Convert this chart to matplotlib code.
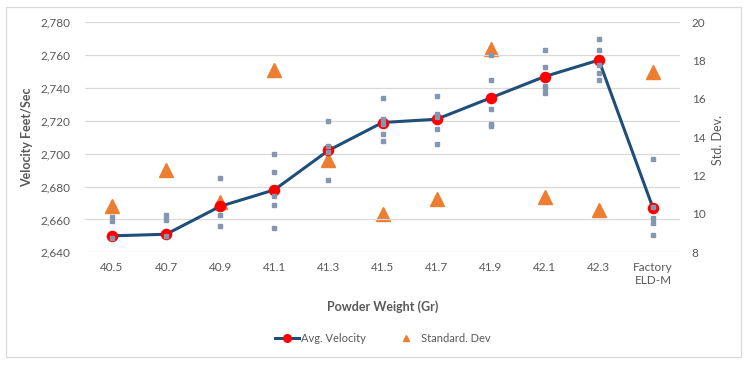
import matplotlib
matplotlib.use("Agg")
import matplotlib.pyplot as plt
from matplotlib.lines import Line2D
from matplotlib.patches import Rectangle
from matplotlib.ticker import FuncFormatter

plt.rcParams['font.family'] = ['Lato', 'DejaVu Sans']

# charges tested (last one is the factory load)
loads = ["40.5", "40.7", "40.9", "41.1", "41.3", "41.5", "41.7", "41.9",
         "42.1", "42.3", "Factory\nELD-M"]

# average velocity per load (ft/s)
avg_velocity = [2650, 2651, 2668, 2678, 2702, 2719, 2721, 2734, 2747, 2757, 2667]

# standard deviation per load (right axis)
std_dev = [10.4, 12.3, 10.6, 17.5, 12.8, 10.0, 10.8, 18.6, 10.9, 10.2, 17.4]

# single shots per load (grey squares)
shots = [
    [2661.5, 2659, 2649],
    [2663, 2659.5, 2650],
    [2685, 2663, 2656],
    [2700, 2689, 2674, 2669, 2655],
    [2720, 2705, 2701, 2684],
    [2734, 2721, 2718, 2712, 2708],
    [2735, 2724, 2722.5, 2715, 2706],
    [2760, 2745, 2727.5, 2718, 2717],
    [2763, 2753, 2741, 2740, 2737],
    [2770, 2763, 2754, 2749, 2745],
    [2696.5, 2667.5, 2661, 2658, 2650.5],
]

TEXT = "#595959"
GRID = "#D9D9D9"

fig = plt.figure(figsize=(7.49, 3.68), dpi=100)
fig.patches.append(Rectangle((6 / 749, 1 - 357 / 368), 735 / 749, 350 / 368,
                             transform=fig.transFigure, fill=False,
                             edgecolor=GRID, linewidth=0.9))

ax = fig.add_axes([85 / 749, 1 - 252.3 / 368, 595 / 749, 230 / 368])
ax2 = ax.twinx()

xs = list(range(len(loads)))

# left axis: velocities
ax.plot(xs, avg_velocity, color="#1F4E79", linewidth=2.2, marker="o",
        markersize=7.3, markerfacecolor="#FF0000", markeredgecolor="#FF0000",
        zorder=3)
for i, group in enumerate(shots):
    ax.plot([i] * len(group), group, linestyle="none", marker="s",
            markersize=3.0, color="#8497B0", zorder=4)

ax.set_ylim(2640, 2780)
ax.set_yticks(range(2640, 2781, 20))
ax.yaxis.set_major_formatter(FuncFormatter(lambda v, p: f"{int(v):,}"))
ax.set_xlim(-0.5, len(loads) - 0.5)
ax.set_xticks(xs)
ax.set_xticklabels(loads)
ax.grid(axis="y", color=GRID, linewidth=0.9)
ax.set_axisbelow(True)

# right axis: standard deviation
ax2.plot(xs, std_dev, linestyle="none", marker="^", markersize=9.5,
         color="#ED7D31", zorder=2)
ax2.set_ylim(8, 20)
ax2.set_yticks(range(8, 21, 2))

# put the velocity axes on top so the line sits over the triangles
ax.set_zorder(ax2.get_zorder() + 1)
ax.patch.set_visible(False)

for a in (ax, ax2):
    for s in a.spines.values():
        s.set_visible(False)
ax.tick_params(axis="y", length=0, pad=10.5, labelsize=8.5, labelcolor=TEXT)
ax.tick_params(axis="x", length=0, pad=7, labelsize=8.5, labelcolor=TEXT)
ax2.tick_params(axis="y", length=0, pad=8.5, labelsize=8.5, labelcolor=TEXT)

fig.text(27 / 749, 1 - 137 / 368, "Velocity Feet/Sec", rotation=90,
         ha="center", va="center", fontsize=9, fontweight="bold", color=TEXT)
fig.text(718 / 749, 1 - 140 / 368, "Std. Dev.", rotation=90,
         ha="center", va="center", fontsize=9, color=TEXT)
fig.text(382.5 / 749, 1 - 307 / 368, "Powder Weight (Gr)",
         ha="center", va="center", fontsize=9, fontweight="bold", color=TEXT)

handles = [
    Line2D([], [], color="#1F4E79", linewidth=2.2, marker="o", markersize=5.5,
           markerfacecolor="#FF0000", markeredgecolor="#FF0000"),
    Line2D([], [], linestyle="none", marker="^", markersize=5, color="#ED7D31"),
]
fig.legend(handles, ["Avg. Velocity", "Standard. Dev"], loc="center",
           bbox_to_anchor=(382.5 / 749, 1 - 338 / 368), ncol=2, frameon=False,
           fontsize=8, labelcolor=TEXT, handlelength=2.2, handletextpad=0.2,
           columnspacing=2.5)

fig.savefig("out.png", dpi=100)
